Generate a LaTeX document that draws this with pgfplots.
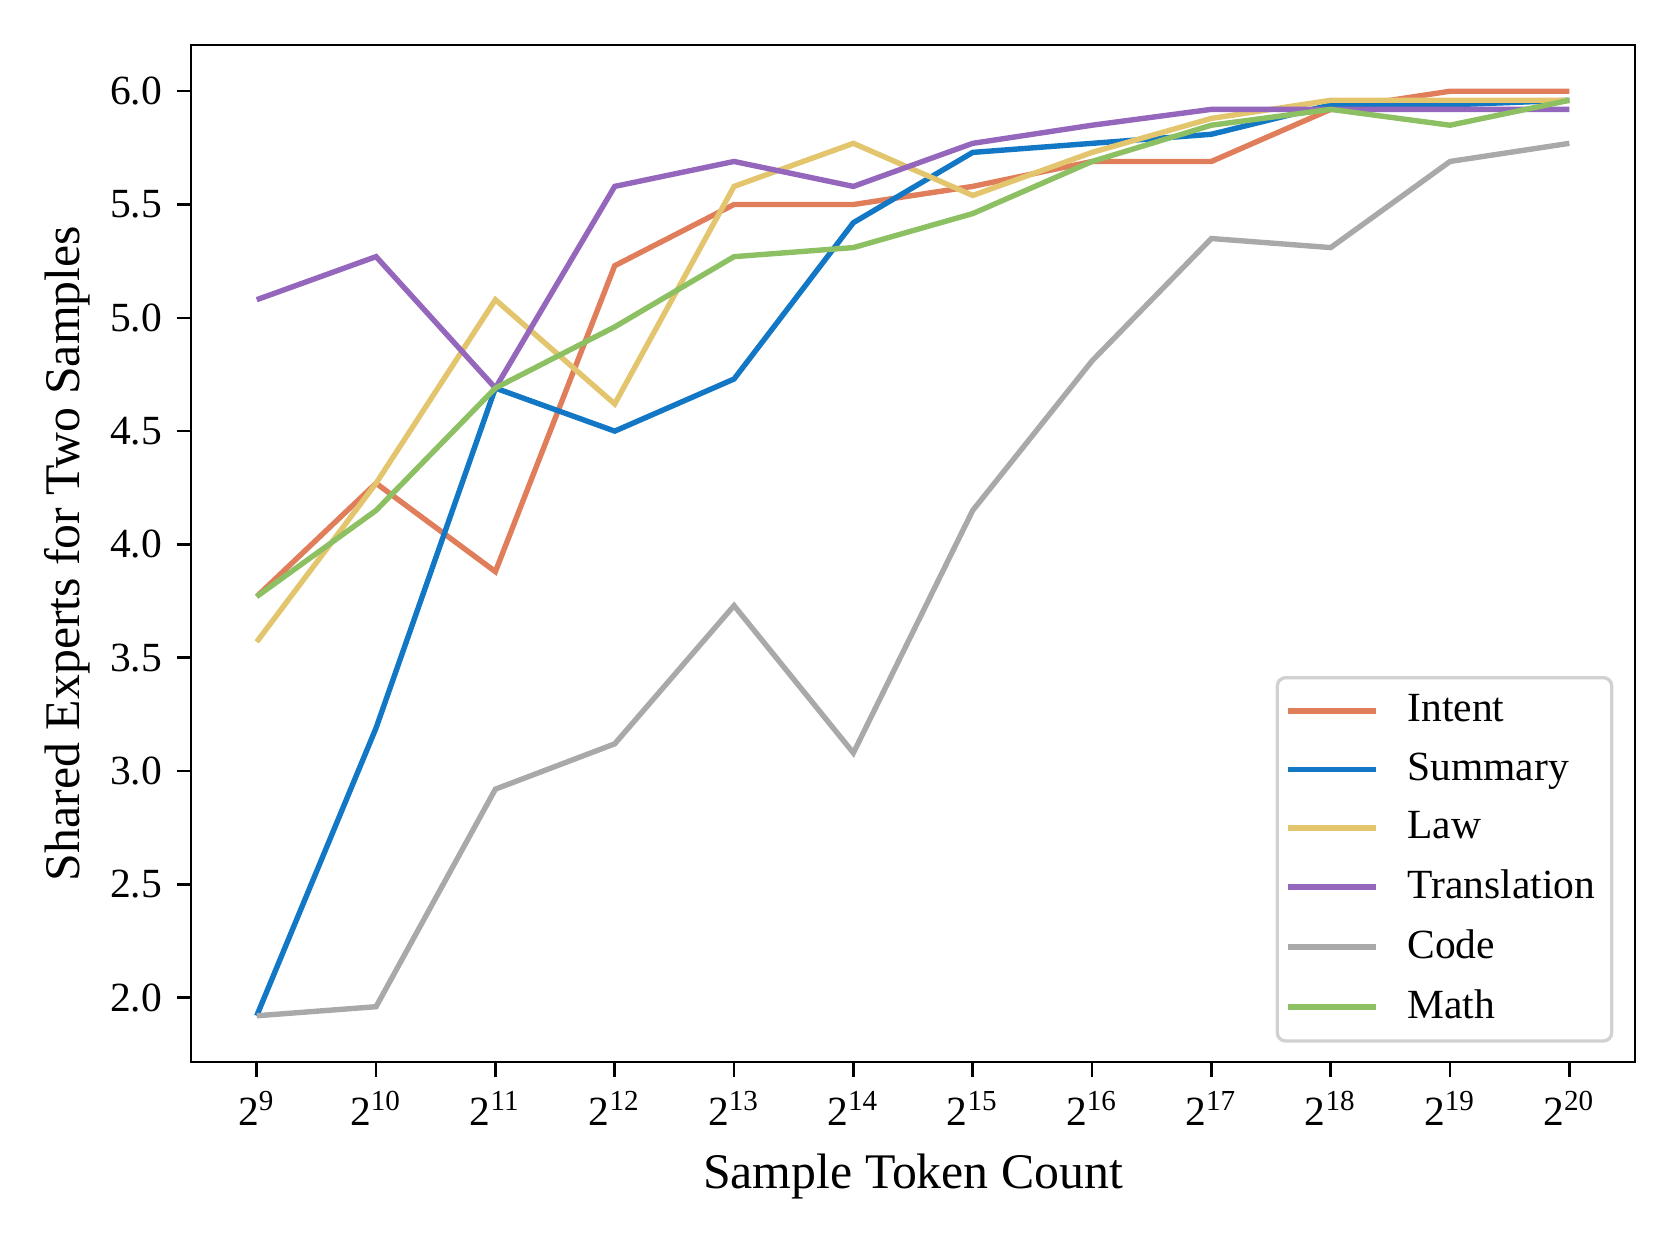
\documentclass[border=0pt]{standalone}
\usepackage{pgfplots}
\pgfplotsset{compat=1.18}
\usepackage{fontspec}
\setmainfont{Liberation Serif}
\definecolor{cIntent}{HTML}{E07E5C}
\definecolor{cSummary}{HTML}{1277C5}
\definecolor{cLaw}{HTML}{E3C56D}
\definecolor{cTrans}{HTML}{9467BD}
\definecolor{cCode}{HTML}{A9A9A9}
\definecolor{cMath}{HTML}{8CC062}
\begin{document}
\begin{tikzpicture}
\useasboundingbox (0,0) rectangle (5.6in,4.2in);
\begin{axis}[
  at={(0.637in,0.66in)}, anchor=south west,
  scale only axis, width=4.813in, height=3.39in,
  xmin=-0.55, xmax=11.55, ymin=1.716, ymax=6.204,
  xtick={0,...,11},
  xticklabels={2\textsuperscript{9},2\textsuperscript{10},2\textsuperscript{11},2\textsuperscript{12},2\textsuperscript{13},2\textsuperscript{14},2\textsuperscript{15},2\textsuperscript{16},2\textsuperscript{17},2\textsuperscript{18},2\textsuperscript{19},2\textsuperscript{20}},
  ytick={2.0,2.5,3.0,3.5,4.0,4.5,5.0,5.5,6.0},
  yticklabel style={/pgf/number format/.cd,fixed,fixed zerofill,precision=1,assume math mode=true},
  tick label style={font=\fontsize{10}{12}\selectfont},
  xtick pos=lower, ytick pos=left,
  tick align=outside, major tick length=3.5pt,
  every tick/.style={black, line width=0.6pt},
  axis line style={line width=0.6pt},
  xlabel={Sample Token Count}, ylabel={Shared Experts for Two Samples},
  label style={font=\fontsize{12}{14}\selectfont},
  ylabel style={yshift=-2pt},
  legend style={at={(0.985,0.019)}, anchor=south east, draw=black!18, line width=0.8pt, rounded corners=2pt, font=\fontsize{10}{12}\selectfont, row sep=2pt, inner xsep=2pt, inner ysep=2pt},
  legend cell align=left,
  legend image code/.code={\draw[#1] (0cm,0cm) -- (0.74cm,0cm);},
  every axis plot/.append style={line width=1.3pt},
]
\addplot[cIntent] coordinates {(0,3.77)(1,4.27)(2,3.88)(3,5.23)(4,5.50)(5,5.50)(6,5.58)(7,5.69)(8,5.69)(9,5.92)(10,6.00)(11,6.00)};
\addlegendentry{\hspace*{5pt}Intent}
\addplot[cSummary] coordinates {(0,1.92)(1,3.19)(2,4.69)(3,4.50)(4,4.73)(5,5.42)(6,5.73)(7,5.77)(8,5.81)(9,5.94)(10,5.94)(11,5.96)};
\addlegendentry{\hspace*{5pt}Summary}
\addplot[cLaw] coordinates {(0,3.57)(1,4.27)(2,5.08)(3,4.62)(4,5.58)(5,5.77)(6,5.54)(7,5.73)(8,5.88)(9,5.96)(10,5.96)(11,5.96)};
\addlegendentry{\hspace*{5pt}Law}
\addplot[cTrans] coordinates {(0,5.08)(1,5.27)(2,4.69)(3,5.58)(4,5.69)(5,5.58)(6,5.77)(7,5.85)(8,5.92)(9,5.92)(10,5.92)(11,5.92)};
\addlegendentry{\hspace*{5pt}Translation}
\addplot[cCode] coordinates {(0,1.92)(1,1.96)(2,2.92)(3,3.12)(4,3.73)(5,3.08)(6,4.15)(7,4.81)(8,5.35)(9,5.31)(10,5.69)(11,5.77)};
\addlegendentry{\hspace*{5pt}Code}
\addplot[cMath] coordinates {(0,3.77)(1,4.15)(2,4.69)(3,4.96)(4,5.27)(5,5.31)(6,5.46)(7,5.69)(8,5.85)(9,5.92)(10,5.85)(11,5.96)};
\addlegendentry{\hspace*{5pt}Math}
\end{axis}
\end{tikzpicture}
\end{document}
